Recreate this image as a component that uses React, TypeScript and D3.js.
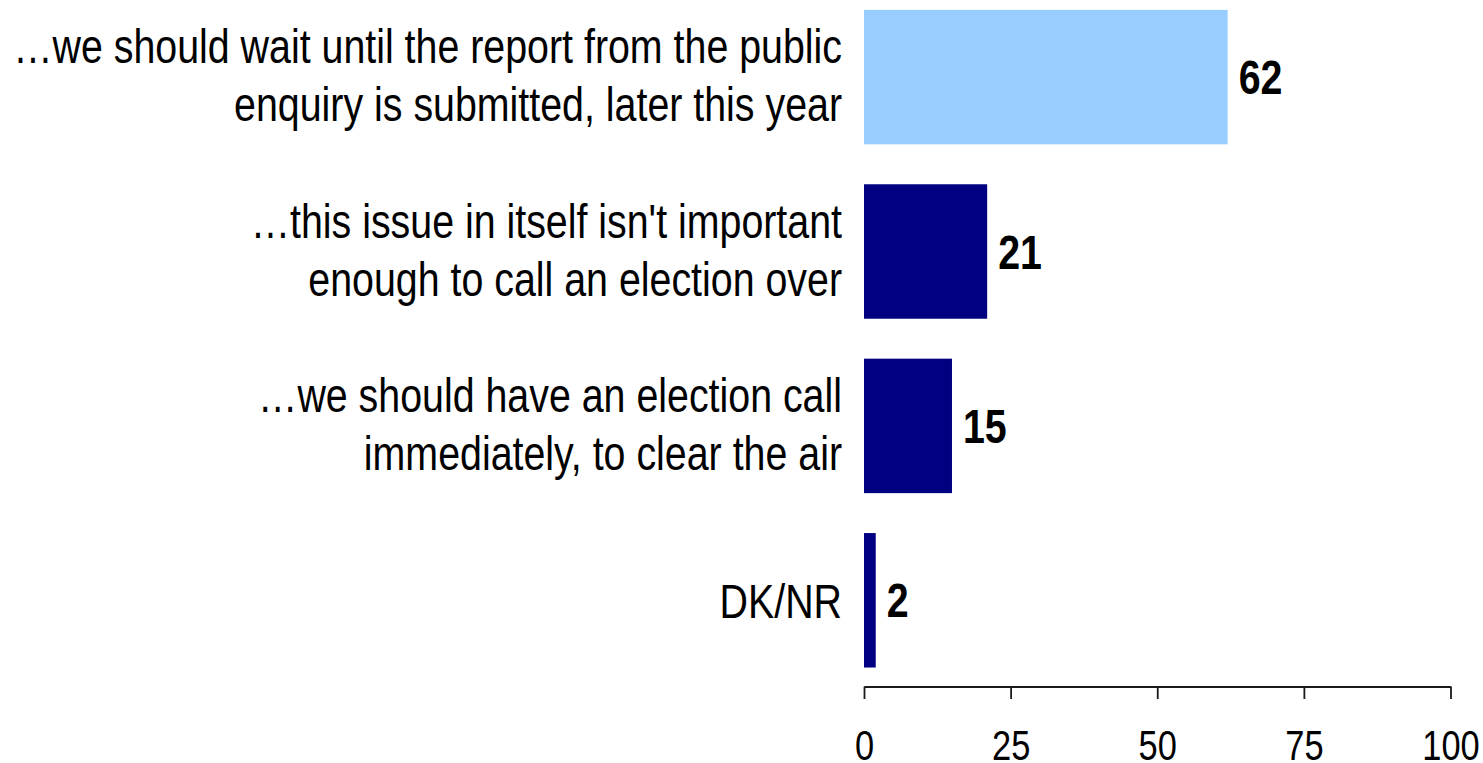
import React, { useEffect, useRef } from "react";
import * as d3 from "d3";

const categoryIds = ["wait", "notImportant", "electionNow", "dknr"];
const categoryLines: string[][] = [
  ["…we should wait until the report from the public", "enquiry is submitted, later this year"],
  ["…this issue in itself isn't important", "enough to call an election over"],
  ["…we should have an election call", "immediately, to clear the air"],
  ["DK/NR"],
];
const values = [62, 21, 15, 2];
const highlighted = [true, false, false, false];
const tickValues = [0, 25, 50, 75, 100];

const W = 1483;
const H = 763;
const FONT = "'Liberation Sans', Arial, sans-serif";
const NARROW = 0.82;

export default function App() {
  const axisRef = useRef<SVGGElement>(null);

  const x = d3.scaleLinear().domain([0, 100]).range([864, 1450.5]);
  const y = d3
    .scaleBand<string>()
    .domain(categoryIds)
    .range([-10.1, 687.5])
    .paddingInner(0.229)
    .paddingOuter(0.1145);

  const axisY = 686.5;

  useEffect(() => {
    if (!axisRef.current) return;
    const g = d3.select(axisRef.current);
    g.selectAll("*").remove();
    g.call(
      d3
        .axisBottom(x)
        .tickValues(tickValues)
        .tickSize(12.5)
        .tickSizeOuter(0)
        .tickPadding(31.5)
        .tickFormat((d) => String(d))
    );
    g.select(".domain").attr("stroke", "#1a1a1a").attr("stroke-width", 1.8);
    g.selectAll(".tick line").attr("stroke", "#1a1a1a").attr("stroke-width", 1.8);
    g.selectAll(".tick text")
      .attr("fill", "#000")
      .attr("font-family", FONT)
      .attr("font-size", 42)
      .attr("transform", `scale(${NARROW},1)`);
    g.attr("font-family", FONT);
  }, []);

  return (
    <svg
      width={W}
      height={H}
      style={{ position: "absolute", left: 0, top: 0, background: "#fff" }}
    >
      {categoryIds.map((id, i) => {
        const y0 = y(id) as number;
        const bw = y.bandwidth();
        const cy = y0 + bw / 2;
        const lines = categoryLines[i];
        const baselines =
          lines.length === 1 ? [cy + 18] : [cy - 14, cy + 44];
        const vx = x(values[i]) + 11;
        return (
          <g key={id}>
            <rect
              x={x(0)}
              y={y0}
              width={x(values[i]) - x(0)}
              height={bw}
              fill={highlighted[i] ? "#99CCFF" : "#000080"}
            />
            <text
              transform={`translate(${vx},${cy + 17}) scale(${NARROW},1)`}
              fontFamily={FONT}
              fontWeight="bold"
              fontSize={48}
              fill="#000"
            >
              {values[i]}
            </text>
            {lines.map((ln, j) => (
              <text
                key={j}
                transform={`translate(842,${baselines[j]}) scale(${NARROW},1)`}
                textAnchor="end"
                fontFamily={FONT}
                fontSize={48}
                fill="#000"
              >
                {ln}
              </text>
            ))}
          </g>
        );
      })}
      <g ref={axisRef} transform={`translate(0,${axisY})`} />
    </svg>
  );
}
